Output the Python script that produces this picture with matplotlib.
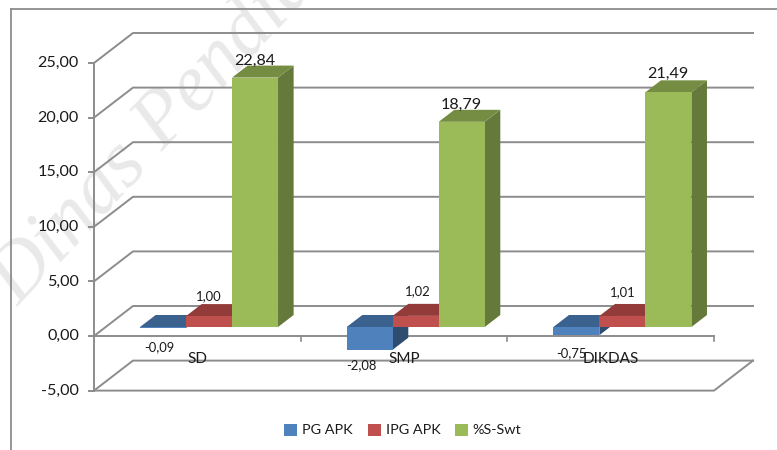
import matplotlib
matplotlib.use('Agg')
import matplotlib.pyplot as plt
from matplotlib.patches import Polygon, Patch

# data
categories = ['SD', 'SMP', 'DIKDAS']
pg_apk = [-0.09, -2.08, -0.75]
ipg_apk = [1.00, 1.02, 1.01]
s_swt = [22.84, 18.79, 21.49]
series_names = ['PG APK', 'IPG APK', '%S-Swt']
y_ticks = [-5, 0, 5, 10, 15, 20, 25]

# (front, top, side)
colors = [('#4F81BD', '#3B618F', '#2E4B70'),
          ('#C0504D', '#923B39', '#7D3230'),
          ('#9BBB59', '#758D43', '#657A3A')]
label_offsets = [[(-4, -19), (0, 20), (0, 17)],
                 [(-8, -15), (2, 25), (0, 17)],
                 [(-5, -18), (0, 24), (0, 18)]]

plt.rcParams['font.family'] = ['Lato', 'DejaVu Sans']
GRID = '#8C8C8C'
TXT = '#1a1a1a'

# 1 category = 206.67 px, 1 unit = 10.92 px, zero sits at pixel (94, 336)
CAT = 206.67
UNIT = 10.92
fig = plt.figure(figsize=(7.77, 4.5), dpi=100)
ax = fig.add_axes([0, 0, 1, 1])
ax.set_xlim(-94 / CAT, (777 - 94) / CAT)
ax.set_ylim((336 - 450) / UNIT, 336 / UNIT)
ax.axis('off')

DX = 39 / CAT
DY = 30 / UNIT


def proj(x, v, d=0.0):
    # oblique projection, d=0 front of the floor, d=1 back wall
    return (x + d * DX, v + d * DY)


# watermark
ax.text(-0.36, 2.6, 'Dinas Pendidikan', family='Liberation Serif', style='italic',
        fontsize=58, color='#E9E9E9', rotation=47, rotation_mode='anchor',
        ha='left', va='baseline', zorder=0)

# chart border
ax.plot([11 / CAT - 94 / CAT] * 2, [(336 - 450) / UNIT, (336 - 9) / UNIT], color=GRID, lw=1.3, zorder=1)
ax.plot([11 / CAT - 94 / CAT, (777 - 94) / CAT], [(336 - 9) / UNIT] * 2, color=GRID, lw=1.3, zorder=1)

# walls
n = len(categories)
for t in y_ticks:
    ax.plot(*zip(proj(0, t, 0), proj(0, t, 1), proj(n, t, 1)), color=GRID, lw=1.4, zorder=1)
    ax.plot([-5 / CAT, 0], [t, t], color=GRID, lw=1.4, zorder=1)
    ax.text(-15 / CAT, t, f'{t:.2f}'.replace('.', ','), ha='right', va='center',
            fontsize=11.6, color=TXT)
ax.plot([0, 0], [y_ticks[0], y_ticks[-1]], color=GRID, lw=1.4, zorder=1)
ax.plot(*zip(proj(0, -5), proj(n, -5), proj(n, -5, 1)), color=GRID, lw=1.4, zorder=1)
ax.plot([0, n], [0, 0], color=GRID, lw=1.4, zorder=1)
for i in range(1, n + 1):
    ax.plot([i, i], [0, -5 / UNIT], color=GRID, lw=1.2, zorder=1)

# bars
W = 46 / CAT
D0, D1 = 0.30, 0.70
for i in range(n):
    vals = [pg_apk[i], ipg_apk[i], s_swt[i]]
    for j, v in enumerate(vals):
        x0 = i + 0.5 + (j - 1.5) * W
        x1 = x0 + W
        hi, lo = max(v, 0), min(v, 0)
        front, top, side = colors[j]
        z = 3 + j * 0.1
        ax.add_patch(Polygon([proj(x1, lo, D0), proj(x1, lo, D1), proj(x1, hi, D1), proj(x1, hi, D0)],
                             fc=side, ec='none', zorder=z))
        ax.add_patch(Polygon([proj(x0, hi, D0), proj(x1, hi, D0), proj(x1, hi, D1), proj(x0, hi, D1)],
                             fc=top, ec='none', zorder=z))
        ax.add_patch(Polygon([proj(x0, lo, D0), proj(x1, lo, D0), proj(x1, hi, D0), proj(x0, hi, D0)],
                             fc=front, ec='none', zorder=z))
        big = j == 2
        ax.annotate(f'{v:.2f}'.replace('.', ','),
                    proj((x0 + x1) / 2, v, D0),
                    xytext=label_offsets[i][j], textcoords='offset pixels',
                    ha='center', va='center', color=TXT,
                    fontsize=11.6 if big else 9.4, zorder=6)
    ax.text(i + 0.5, -23 / UNIT, categories[i], ha='center', va='center',
            fontsize=11, color=TXT, zorder=6)

# legend
handles = [Patch(fc=colors[k][0], ec='none', label=series_names[k]) for k in range(3)]
ax.legend(handles=handles, ncol=3, frameon=False, loc='center',
          bbox_to_anchor=(403 / 777, 1 - 430 / 450), fontsize=10.4, labelcolor=TXT,
          handlelength=0.9, handleheight=0.9, handletextpad=0.35, columnspacing=1.0,
          borderpad=0)

fig.savefig('out.png', dpi=100)
